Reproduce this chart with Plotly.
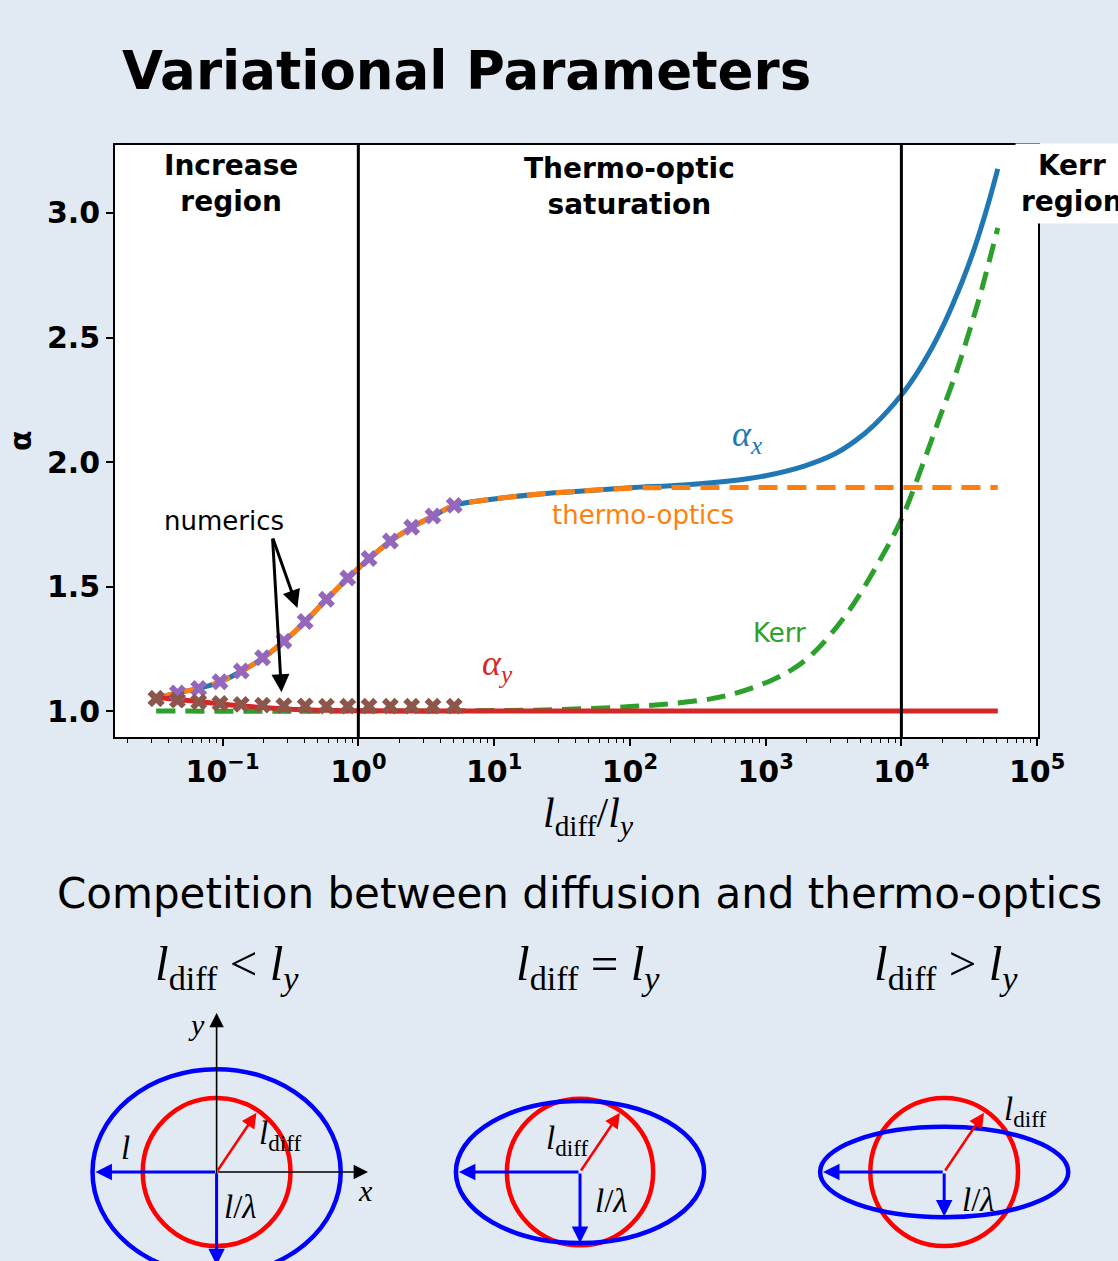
import plotly.graph_objects as go

# ---------------- data ----------------
alpha_x_x = [0.0324, 0.0461, 0.0670, 0.0962, 0.1387, 0.1991, 0.2844, 0.4074, 0.5848, 0.8395,
             1.205, 1.730, 2.483, 3.556, 5.105, 10, 20, 40, 100, 250, 630, 1000, 1950, 3160, 4570,
             6310, 10000, 12600, 16600, 19950, 23400, 28200, 33900, 39800, 45700, 51300]
alpha_x_y = [1.050, 1.073, 1.091, 1.118, 1.161, 1.214, 1.281, 1.360, 1.449, 1.534,
             1.613, 1.683, 1.738, 1.783, 1.826, 1.852, 1.870, 1.882, 1.897, 1.908, 1.928, 1.945, 1.985, 2.030, 2.085,
             2.149, 2.269, 2.345, 2.454, 2.539, 2.622, 2.728, 2.846, 2.964, 3.076, 3.177]

thermo_x = [0.0324, 0.0461, 0.0670, 0.0962, 0.1387, 0.1991, 0.2844, 0.4074, 0.5848, 0.8395,
            1.205, 1.730, 2.483, 3.556, 5.105, 10, 20, 40, 100, 250, 1000, 10000, 51300]
thermo_y = [1.050, 1.073, 1.091, 1.118, 1.161, 1.214, 1.281, 1.360, 1.449, 1.534,
            1.613, 1.683, 1.738, 1.783, 1.826, 1.852, 1.870, 1.882, 1.895, 1.898, 1.898, 1.898, 1.898]

alpha_y_x = [0.0324, 0.0461, 0.0670, 0.0962, 0.1387, 0.1991, 0.2844, 0.4074, 0.5848, 1.0, 3.0, 51300]
alpha_y_y = [1.056, 1.047, 1.038, 1.029, 1.021, 1.014, 1.009, 1.005, 1.003, 1.001, 1.000, 1.000]

kerr_x = [0.0324, 1, 10, 30, 100, 200, 400, 630, 1120, 1600, 2320, 4070, 6760, 10000, 14800, 18600,
          25700, 33100, 38900, 51300]
kerr_y = [1.000, 1.000, 1.002, 1.006, 1.018, 1.030, 1.050, 1.075, 1.125, 1.170, 1.240, 1.400, 1.595, 1.770,
          2.010, 2.160, 2.370, 2.560, 2.690, 2.940]

num_x = [0.0324, 0.0465, 0.0667, 0.0957, 0.1373, 0.197, 0.2828, 0.4058, 0.5823, 0.8357,
         1.199, 1.721, 2.470, 3.544, 5.086]
num_alpha_x = [1.051, 1.073, 1.091, 1.118, 1.161, 1.214, 1.281, 1.360, 1.449, 1.534,
               1.613, 1.683, 1.738, 1.783, 1.826]
num_alpha_y = [1.051, 1.044, 1.037, 1.031, 1.027, 1.024, 1.022, 1.021, 1.020, 1.020,
               1.020, 1.020, 1.020, 1.020, 1.020]

region_bounds = [1, 10000]
x_tickvals = [0.1, 1, 10, 100, 1000, 10000, 100000]
x_ticktext = ["10<sup>−1</sup>", "10<sup>0</sup>", "10<sup>1</sup>", "10<sup>2</sup>",
              "10<sup>3</sup>", "10<sup>4</sup>", "10<sup>5</sup>"]
x_minor = [m * 10 ** e for e in range(-2, 5) for m in range(2, 10)]
y_tickvals = [1.0, 1.5, 2.0, 2.5, 3.0]

# diagram (units of l_diff)
panel_cx = [0.0, 4.92, 9.85]
circle_r = [1.0, 0.99, 1.0]
ellipse_a = [1.68, 1.68, 1.68]
ellipse_b = [1.39, 0.96, 0.61]
panel_titles = ["<i>l</i><sub>diff</sub> &lt; <i>l<sub>y</sub></i>",
                "<i>l</i><sub>diff</sub> = <i>l<sub>y</sub></i>",
                "<i>l</i><sub>diff</sub> &gt; <i>l<sub>y</sub></i>"]

# ---------------- figure ----------------
W, H = 1118, 1261
W_EFF = 1093  # horizontal extent actually used by the renderer
BG = "#e1e9f3"
BLUE, ORANGE, GREEN, RED = "#1f77b4", "#ff7f0e", "#2ca02c", "#d62728"
PURPLE, BROWN = "#9467bd", "#8c564b"
SERIF = "Liberation Serif"
SANS = "DejaVu Sans"


def px(xp):
    return xp / W_EFF


def py(yp):
    return 1 - yp / H


fig = go.Figure()
fig.add_trace(go.Scatter(x=alpha_x_x, y=alpha_x_y, mode="lines",
                         line=dict(color=BLUE, width=5, shape="spline", smoothing=1.0)))
fig.add_trace(go.Scatter(x=thermo_x, y=thermo_y, mode="lines",
                         line=dict(color=ORANGE, width=5, dash="19px,10px", shape="spline", smoothing=0.8)))
fig.add_trace(go.Scatter(x=kerr_x, y=kerr_y, mode="lines",
                         line=dict(color=GREEN, width=5, dash="19px,10px", shape="spline", smoothing=1.0)))
fig.add_trace(go.Scatter(x=alpha_y_x, y=alpha_y_y, mode="lines",
                         line=dict(color=RED, width=5, shape="spline", smoothing=0.8)))
fig.add_trace(go.Scatter(x=num_x, y=num_alpha_x, mode="markers",
                         marker=dict(symbol="x", size=15, color=PURPLE, line=dict(width=0))))
fig.add_trace(go.Scatter(x=num_x, y=num_alpha_y, mode="markers",
                         marker=dict(symbol="x", size=15, color=BROWN, line=dict(width=0))))

shapes = []
shapes.append(dict(type="rect", xref="x domain", yref="y domain", x0=0, x1=1, y0=0, y1=1,
                   fillcolor="white", line=dict(width=0), layer="below"))
for xb in region_bounds:
    shapes.append(dict(type="line", xref="x", yref="y domain", x0=xb, x1=xb, y0=0, y1=1,
                       line=dict(color="black", width=3)))

for cx, r in zip(panel_cx, circle_r):
    shapes.append(dict(type="circle", xref="x2", yref="y2", x0=cx - r, x1=cx + r, y0=-r, y1=r,
                       line=dict(color="#ff0000", width=4.5)))
for cx, a, b in zip(panel_cx, ellipse_a, ellipse_b):
    shapes.append(dict(type="circle", xref="x2", yref="y2", x0=cx - a, x1=cx + a, y0=-b, y1=b,
                       line=dict(color="#0000ff", width=4.5)))

ann = []


def ptext(x, y, t, size, color="black", family=SANS, **kw):
    d = dict(text=t, xref="paper", yref="paper", x=px(x), y=py(y), xanchor="center", yanchor="middle",
             showarrow=False, font=dict(family=family, size=size, color=color))
    d.update(kw)
    return d


ann.append(dict(text="<b>Variational Parameters</b>", xref="paper", yref="paper", x=px(120), y=py(70),
                xanchor="left", yanchor="middle", showarrow=False,
                font=dict(family=SANS, size=53, color="black")))
ann.append(ptext(231, 183, "<b>Increase<br>region</b>", 28))
ann.append(ptext(631, 186, "<b>Thermo-optic<br>saturation</b>", 28))
ann.append(ptext(1074, 183, "<b>Kerr<br>region</b>", 28, bgcolor="white", borderpad=5))
ann.append(ptext(20, 440, "<b>α</b>", 30, textangle=-90))
ann.append(ptext(590, 816, "<i>l</i><sub>diff</sub>/<i>l<sub>y</sub></i>", 42, family=SERIF))
ann.append(ptext(748, 436, "<i>α<sub>x</sub></i>", 36, color=BLUE, family=SERIF))
ann.append(ptext(644, 515, "thermo-optics", 26, color=ORANGE))
ann.append(ptext(781, 633, "Kerr", 26, color=GREEN))
ann.append(ptext(498, 665, "<i>α<sub>y</sub></i>", 36, color=RED, family=SERIF))
ann.append(ptext(224, 521, "numerics", 26))
ann.append(dict(text="", xref="x", yref="y", x=-0.449, y=1.414, axref="pixel", ayref="pixel",
                ax=-25, ay=-71, showarrow=True, arrowhead=2, arrowsize=1.2, arrowwidth=3,
                arrowcolor="black"))
ann.append(dict(text="", xref="x", yref="y", x=-0.566, y=1.076, axref="pixel", ayref="pixel",
                ax=-9, ay=-155, showarrow=True, arrowhead=2, arrowsize=1.2, arrowwidth=3,
                arrowcolor="black"))

ann.append(ptext(581, 893, "Competition between diffusion and thermo-optics", 42))
for cx, t in zip([227, 589, 948], panel_titles):
    ann.append(ptext(cx, 966, t, 49, family=SERIF))


def arrow(x0, y0, x1, y1, color, width, size=1.3):
    return dict(text="", xref="x2", yref="y2", axref="x2", ayref="y2", x=x1, y=y1, ax=x0, ay=y0,
                showarrow=True, arrowhead=2, arrowsize=size, arrowwidth=width, arrowcolor=color,
                standoff=0, startstandoff=0)


def label(x, y, t, size=30):
    return dict(text=t, xref="x2", yref="y2", x=x, y=y, xanchor="center", yanchor="middle",
                showarrow=False, font=dict(family=SERIF, size=size, color="black"))


c0 = panel_cx[0]
ann.append(arrow(c0, 0, c0 + 2.05, 0, "black", 1.6, 1.8))
ann.append(arrow(c0, -1.3, c0, 2.15, "black", 1.6, 1.8))
ann.append(label(c0 + 2.02, -0.25, "<i>x</i>", 30))
ann.append(label(c0 - 0.27, 2.0, "<i>y</i>", 30))
ann.append(label(c0 - 1.24, 0.33, "<i>l</i>", 33))
ann.append(label(c0 + 0.86, 0.50, "<i>l</i><sub>diff</sub>", 33))
ann.append(label(c0 + 0.33, -0.47, "<i>l</i>/<i>λ</i>", 33))

down_tip = [-1.26, -0.96, -0.60]
for cx, a, dt in zip(panel_cx, ellipse_a, down_tip):
    ann.append(arrow(cx, 0, cx - a + 0.04, 0, "#0000ff", 3, 1.1))
    ann.append(arrow(cx, 0, cx, dt, "#0000ff", 3, 1.1))
    ann.append(arrow(cx, 0, cx + 0.54, 0.80, "#ff0000", 2.5, 1.2))

c1 = panel_cx[1]
ann.append(label(c1 - 0.17, 0.43, "<i>l</i><sub>diff</sub>", 33))
ann.append(label(c1 + 0.42, -0.39, "<i>l</i>/<i>λ</i>", 33))
c2 = panel_cx[2]
ann.append(label(c2 + 1.1, 0.82, "<i>l</i><sub>diff</sub>", 33))
ann.append(label(c2 + 0.47, -0.38, "<i>l</i>/<i>λ</i>", 33))

axis_font = dict(family=SANS, size=30, color="black", weight="bold")
fig.update_layout(
    width=W, height=H, autosize=False,
    margin=dict(l=0, r=0, t=0, b=0),
    paper_bgcolor=BG, plot_bgcolor=BG,
    showlegend=False,
    shapes=shapes, annotations=ann,
    xaxis=dict(type="log", range=[-1.794, 5.007], domain=[px(115), px(1040)], anchor="y",
               showline=True, linecolor="black", linewidth=1.5, mirror=True,
               ticks="outside", ticklen=7, tickwidth=1.5, tickcolor="black",
               tickvals=x_tickvals, ticktext=x_ticktext, tickfont=axis_font,
               showgrid=False, zeroline=False,
               minor=dict(tickvals=x_minor, ticks="outside", ticklen=4, tickwidth=1.2,
                          tickcolor="black", showgrid=False)),
    yaxis=dict(range=[0.896, 3.273], domain=[py(737), py(145)], anchor="x",
               showline=True, linecolor="black", linewidth=1.5, mirror=True,
               ticks="outside", ticklen=7, tickwidth=1.5, tickcolor="black",
               tickvals=y_tickvals, tickformat=".1f", tickfont=axis_font,
               showgrid=False, zeroline=False),
    xaxis2=dict(range=[-217 / 74, (W_EFF - 217) / 74], domain=[0, 1], anchor="y2", visible=False),
    yaxis2=dict(range=[-89 / 74, 172 / 74], domain=[0, 261 / H], anchor="x2", visible=False),
)

fig.write_html("out.html")
